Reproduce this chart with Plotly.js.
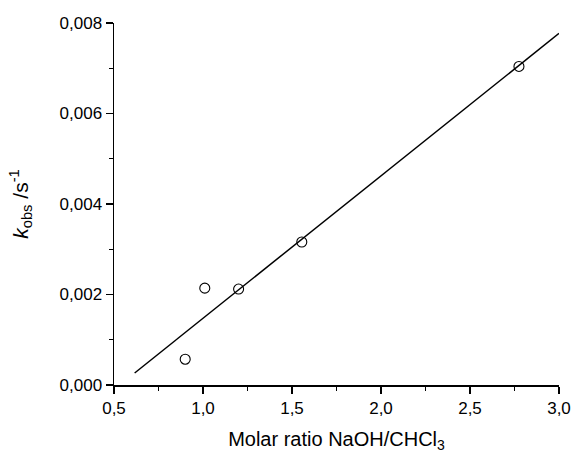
<!DOCTYPE html>
<html>
<head>
<meta charset="utf-8">
<script src="https://cdn.plot.ly/plotly-3.0.1.min.js"></script>
<style>
  html, body { margin: 0; padding: 0; background: #fff; }
  #chart { width: 573px; height: 454px; }
</style>
</head>
<body>
<div id="chart"></div>
<script>
// Measured rate constants against the NaOH/CHCl3 molar ratio
const molarRatio = [0.90, 1.01, 1.20, 1.555, 2.775];
const kObs = [0.00057, 0.00214, 0.00212, 0.00316, 0.00704];

// Least-squares line drawn across the fitted range
const fitX = [0.616, 3.0];
const fitY = [0.000265, 0.00777];

const xTickVals = [0.5, 1.0, 1.5, 2.0, 2.5, 3.0];
const yTickVals = [0.000, 0.002, 0.004, 0.006, 0.008];

const font = 'Liberation Sans, Arial, sans-serif';

const traces = [
  {
    x: fitX, y: fitY,
    type: 'scatter', mode: 'lines',
    line: { color: '#000', width: 1.5 },
    hoverinfo: 'skip', showlegend: false
  },
  {
    x: molarRatio, y: kObs,
    type: 'scatter', mode: 'markers',
    marker: { symbol: 'circle-open', size: 10, color: '#000', line: { width: 1.1, color: '#000' } },
    showlegend: false
  }
];

const axisCommon = {
  showline: true, linecolor: '#000', linewidth: 1.5,
  showgrid: false, zeroline: false, mirror: false,
  ticks: 'outside', ticklen: 7, tickwidth: 1.4, tickcolor: '#000',
  tickfont: { family: font, size: 17, color: '#000' }
};

const layout = {
  width: 573, height: 454,
  margin: { l: 114, r: 14, t: 23, b: 69 },
  paper_bgcolor: '#fff', plot_bgcolor: '#fff',
  separators: ',.',
  showlegend: false,
  xaxis: Object.assign({}, axisCommon, {
    range: [0.5, 3.0],
    tickvals: xTickVals, tickformat: '.1f',
    minor: { dtick: 0.25, tick0: 0.5, ticks: 'outside', ticklen: 4, tickwidth: 1.2, tickcolor: '#000', showgrid: false },
    title: { text: 'Molar ratio NaOH/CHCl<sub>3</sub>', font: { family: font, size: 20, color: '#000' }, standoff: 15 }
  }),
  yaxis: Object.assign({}, axisCommon, {
    range: [0, 0.008],
    tickvals: yTickVals, tickformat: '.3f',
    minor: { dtick: 0.001, tick0: 0, ticks: 'outside', ticklen: 4, tickwidth: 1.2, tickcolor: '#000', showgrid: false },
    title: { text: '<i>k</i><sub>obs</sub> /s<sup>-1</sup>', font: { family: font, size: 21, color: '#000' }, standoff: 25 }
  })
};

Plotly.newPlot('chart', traces, layout, { displayModeBar: false, staticPlot: true });
</script>
</body>
</html>
